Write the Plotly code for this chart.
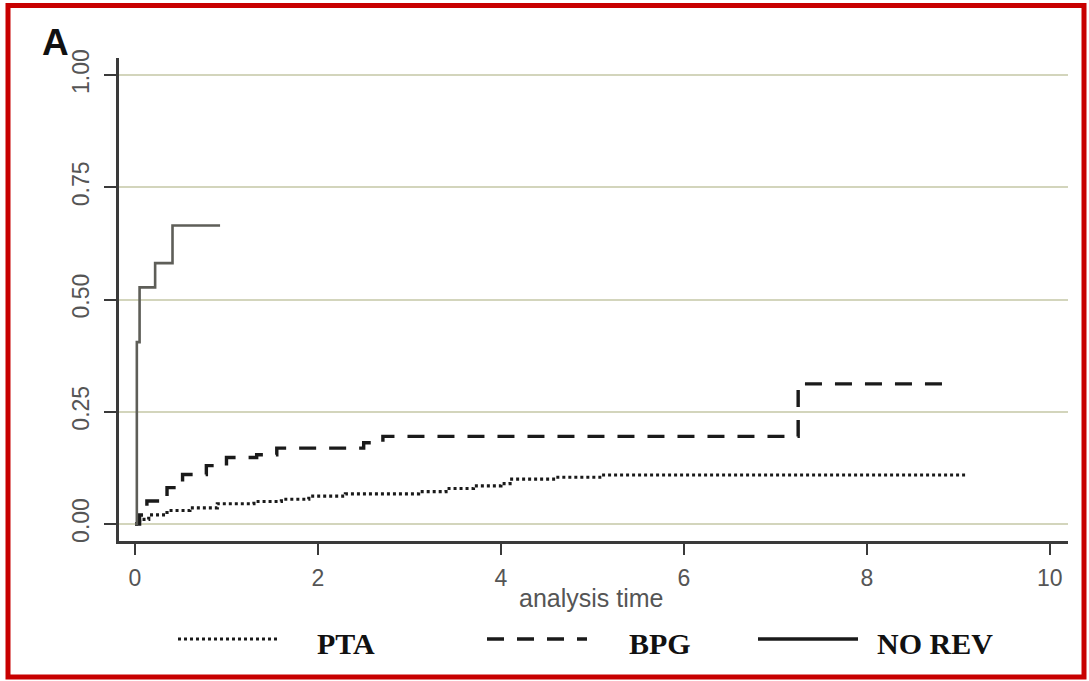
import plotly.graph_objects as go

# ---- data ----
pta_t = [0.0, 0.05, 0.15, 0.35, 0.6, 0.9, 1.3, 1.6, 1.9, 2.3, 3.1, 3.4, 3.7, 4.0, 4.1, 4.6, 5.1, 9.09]
pta_s = [0.0, 0.01, 0.02, 0.03, 0.036, 0.045, 0.050, 0.055, 0.062, 0.067, 0.072, 0.079, 0.085, 0.090, 0.100, 0.104, 0.109, 0.109]

bpg_t = [0.0, 0.05, 0.13, 0.35, 0.52, 0.78, 1.0, 1.33, 1.55, 2.5, 2.71, 7.25, 8.85]
bpg_s = [0.0, 0.02, 0.051, 0.081, 0.11, 0.13, 0.148, 0.154, 0.169, 0.181, 0.195, 0.312, 0.312]

norev_t = [0.0, 0.02, 0.05, 0.22, 0.41, 0.93]
norev_s = [0.0, 0.405, 0.527, 0.581, 0.665, 0.665]

x_ticks = [0, 2, 4, 6, 8, 10]
y_ticks = [0.0, 0.25, 0.5, 0.75, 1.0]
y_ticklabels = ["0.00", "0.25", "0.50", "0.75", "1.00"]
series_names = ["PTA", "BPG", "NO REV"]
x_title = "analysis time"
panel_label = "A"

# ---- figure ----
W, H = 1089, 681
L, R, T, B = 119, 21, 58, 140
pw, ph = W - L - R, H - T - B

def px2paper_x(px):
    return (px - L) / pw

def px2paper_y(py):
    return (H - B - py) / ph

DOT = "3px,3px"
DASH = "17px,13px"

fig = go.Figure()
fig.add_trace(go.Scatter(x=pta_t, y=pta_s, mode="lines", line_shape="hv",
                         line=dict(color="#1a1a1a", width=3.2, dash=DOT),
                         name=series_names[0], showlegend=False))
fig.add_trace(go.Scatter(x=bpg_t, y=bpg_s, mode="lines", line_shape="hv",
                         line=dict(color="#1a1a1a", width=3.4, dash=DASH),
                         name=series_names[1], showlegend=False))
fig.add_trace(go.Scatter(x=norev_t, y=norev_s, mode="lines", line_shape="hv",
                         line=dict(color="#5e5e58", width=2.6),
                         name=series_names[2], showlegend=False))

font_axis = "Liberation Sans, Arial"

fig.update_layout(
    width=W, height=H,
    margin=dict(l=L, r=R, t=T, b=B, pad=0),
    paper_bgcolor="white", plot_bgcolor="white",
    showlegend=False,
    xaxis=dict(range=[-0.175, 10.2], tickvals=x_ticks, ticks="outside", ticklen=11,
               tickwidth=2, tickcolor="#3a3a3a", showline=True, linecolor="#3a3a3a",
               linewidth=2.5, showgrid=False, zeroline=False,
               ticklabelstandoff=4,
               tickfont=dict(family=font_axis, size=23, color="#555")),
    yaxis=dict(range=[-0.038, 1.038], tickvals=y_ticks, ticktext=y_ticklabels,
               ticks="outside", ticklen=12, tickwidth=2, tickcolor="#3a3a3a",
               showline=True, linecolor="#3a3a3a", linewidth=2.5,
               showgrid=True, gridcolor="#d3d5bc", gridwidth=2, zeroline=False,
               tickangle=-90, ticklabelstandoff=6,
               tickfont=dict(family=font_axis, size=23, color="#555")),
)

# x axis title
fig.add_annotation(x=px2paper_x(591), y=px2paper_y(598), xref="paper", yref="paper",
                   text=x_title, showarrow=False, xanchor="center", yanchor="middle",
                   font=dict(family=font_axis, size=25, color="#555"))

# panel label
fig.add_annotation(x=px2paper_x(55), y=px2paper_y(42), xref="paper", yref="paper",
                   text="<b>" + panel_label + "</b>", showarrow=False,
                   xanchor="center", yanchor="middle",
                   font=dict(family="Liberation Sans, Arial", size=37, color="#111"))

# legend (drawn manually to match sample length)
sample_y = px2paper_y(639)
text_y = px2paper_y(643)
samples = [(178, 277, DOT, 3.2, "#1a1a1a"),
           (487, 587, DASH, 3.4, "#1a1a1a"),
           (758, 858, "solid", 3.4, "#1a1a1a")]
label_x = [315, 627, 875]
for (x0, x1, dash, w, c), lx, name in zip(samples, label_x, series_names):
    fig.add_shape(type="line", xref="paper", yref="paper",
                  x0=px2paper_x(x0), x1=px2paper_x(x1), y0=sample_y, y1=sample_y,
                  line=dict(color=c, width=w, dash=dash))
    fig.add_annotation(x=px2paper_x(lx), y=text_y, xref="paper", yref="paper",
                       text="<b>" + name + "</b>", showarrow=False,
                       xanchor="left", yanchor="middle",
                       font=dict(family="Liberation Serif, Times New Roman", size=30, color="#111"))

# red frame
fig.add_shape(type="rect", xref="paper", yref="paper",
              x0=px2paper_x(8), x1=px2paper_x(1084),
              y0=px2paper_y(677), y1=px2paper_y(5.5),
              line=dict(color="#c80000", width=5), layer="above")

fig.write_html("out.html",
               config={"displayModeBar": False},
               post_script="document.body.style.margin='0px';document.body.style.overflow='hidden';")
